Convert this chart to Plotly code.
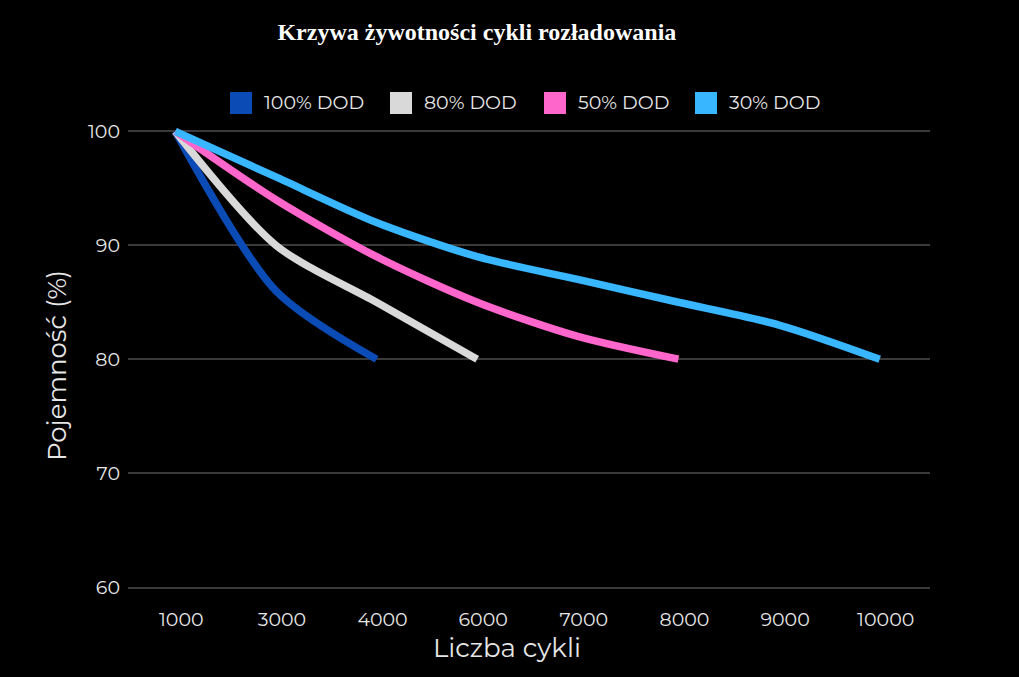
import plotly.graph_objects as go

categories = ["1000", "3000", "4000", "6000", "7000", "8000", "9000", "10000"]
series_names = ["100% DOD", "80% DOD", "50% DOD", "30% DOD"]
dod100 = [100, 86, 80]
dod80 = [100, 90, 85, 80]
dod50 = [100, 94, 89, 85, 82, 80]
dod30 = [100, 96, 92, 89, 87, 85, 83, 80]
y_ticks = [60, 70, 80, 90, 100]

colors = ["#0a4bb5", "#d9d9d9", "#ff66cc", "#38b6ff"]
values = [dod100, dod80, dod50, dod30]

W, H = 1019, 677
L, R, T, B = 128, 89, 120, 90
PW, PH = W - L - R, H - T - B


def px(p):
    return (p - L) / PW


def py(p):
    return (H - B - p) / PH


fig = go.Figure()
for name, vals, col in zip(series_names, values, colors):
    fig.add_trace(go.Scatter(
        x=categories[:len(vals)], y=vals, mode="lines", name=name,
        line=dict(color=col, width=7.5, shape="spline", smoothing=0.8),
        showlegend=False,
    ))

# manual legend (large squares like the reference)
legend_x = [230, 390, 544, 695]
shapes = []
annotations = []
for name, col, lx in zip(series_names, colors, legend_x):
    shapes.append(dict(type="rect", xref="paper", yref="paper",
                       x0=px(lx), x1=px(lx + 22), y0=py(114), y1=py(92),
                       fillcolor=col, line=dict(width=0)))
    annotations.append(dict(text=name, xref="paper", yref="paper",
                            x=px(lx + 32), y=py(103), xanchor="left", yanchor="middle",
                            showarrow=False, font=dict(size=19, color="#e6e6e6")))

annotations.append(dict(text="Liczba cykli", xref="paper", yref="paper",
                        x=px(507), y=py(648), xanchor="center", yanchor="middle",
                        showarrow=False, font=dict(size=26, color="#e6e6e6")))
annotations.append(dict(text="Pojemność (%)", xref="paper", yref="paper",
                        x=px(57), y=py(366), xanchor="center", yanchor="middle", textangle=-90,
                        showarrow=False, font=dict(size=26, color="#e6e6e6")))

font_family = "Montserrat, Lato, 'Open Sans', sans-serif"
fig.update_layout(
    width=W, height=H,
    paper_bgcolor="#000000", plot_bgcolor="#000000",
    margin=dict(l=L, r=R, t=T, b=B, autoexpand=False),
    font=dict(family=font_family, color="#e6e6e6", size=19),
    title=dict(text="<b>Krzywa żywotności cykli rozładowania</b>",
               font=dict(family="Liberation Serif, Times New Roman, serif", size=24, color="#ffffff"),
               x=0.468, xanchor="center", xref="container", y=0.953, yanchor="middle"),
    showlegend=False,
    shapes=shapes,
    annotations=annotations,
    xaxis=dict(type="category", categoryorder="array", categoryarray=categories,
               range=[-0.47, 7.5], showgrid=False, zeroline=False,
               showline=True, linecolor="#3a3a3a", linewidth=1.5,
               ticks="", ticklabelshift=6, ticklabelstandoff=14,
               tickfont=dict(size=19, color="#e6e6e6")),
    yaxis=dict(range=[60, 101], tickvals=y_ticks, showgrid=True, gridcolor="#3a3a3a", gridwidth=1.5,
               zeroline=False, showline=False, ticks="", ticklabelstandoff=7,
               tickfont=dict(size=19, color="#e6e6e6")),
)

fig.write_html("out.html")
